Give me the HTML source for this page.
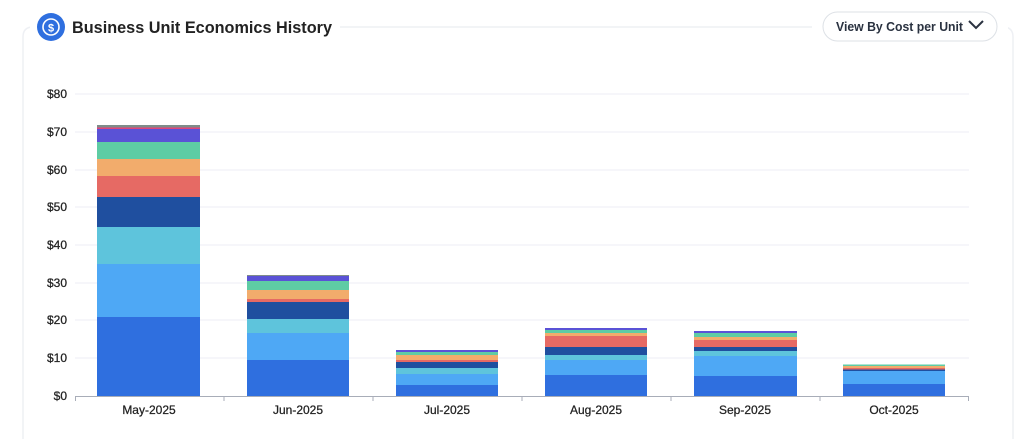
<!DOCTYPE html>
<html><head><meta charset="utf-8"><style>
body{margin:0;background:#fff;width:1024px;height:439px;overflow:hidden;font-family:"Liberation Sans",Arial,sans-serif}
</style></head><body>
<svg width="1024" height="439" xmlns="http://www.w3.org/2000/svg" font-family="Liberation Sans, Arial, sans-serif">
<path d="M23 439 V37 Q23 27 33 27 H1003 Q1013 27 1013 37 V439" fill="none" stroke="#eef0f4" stroke-width="1.5"/>
<rect x="30" y="8" width="310" height="36" fill="#fff"/>
<rect x="812" y="8" width="196" height="40" fill="#fff"/>
<circle cx="51" cy="27" r="14" fill="#2f6fdf"/>
<circle cx="51" cy="27" r="8" fill="none" stroke="#fff" stroke-width="1.6"/>
<text x="51" y="31.5" font-size="11" font-weight="bold" fill="#fff" text-anchor="middle">$</text>
<text x="72" y="33" font-size="17" font-weight="bold" fill="#222" textLength="260" lengthAdjust="spacingAndGlyphs">Business Unit Economics History</text>
<rect x="823" y="12" width="174" height="29" rx="14.5" fill="#fff" stroke="#dde1e6"/>
<text x="836" y="31" font-size="13" fill="#2a3240" font-weight="bold" textLength="127" lengthAdjust="spacingAndGlyphs">View By Cost per Unit</text>
<path d="M969 21 L976 28 L983 21" fill="none" stroke="#2a3240" stroke-width="2"/>
<g stroke="#eceef5" stroke-width="1">
<line x1="75" x2="969" y1="94" y2="94"/><line x1="75" x2="969" y1="132" y2="132"/><line x1="75" x2="969" y1="170" y2="170"/><line x1="75" x2="969" y1="207" y2="207"/><line x1="75" x2="969" y1="245" y2="245"/><line x1="75" x2="969" y1="283" y2="283"/><line x1="75" x2="969" y1="320" y2="320"/><line x1="75" x2="969" y1="358" y2="358"/>
</g>
<g font-size="12" fill="#222" text-anchor="end" stroke="#222" stroke-width="0.25">
<text x="67" y="98">$80</text><text x="67" y="136">$70</text><text x="67" y="174">$60</text><text x="67" y="211">$50</text><text x="67" y="249">$40</text><text x="67" y="287">$30</text><text x="67" y="324">$20</text><text x="67" y="362">$10</text><text x="67" y="400">$0</text>
</g>
<g>
<rect x="97" y="317" width="103" height="79" fill="#2f6fdf"/>
<rect x="97" y="264" width="103" height="53" fill="#4ea8f5"/>
<rect x="97" y="227" width="103" height="37" fill="#5ec4dc"/>
<rect x="97" y="197" width="103" height="30" fill="#1f4f9f"/>
<rect x="97" y="176" width="103" height="21" fill="#e66a64"/>
<rect x="97" y="159" width="103" height="17" fill="#f2ac6c"/>
<rect x="97" y="142" width="103" height="17" fill="#5ecca4"/>
<rect x="97" y="129" width="103" height="13" fill="#5a52d6"/>
<rect x="97" y="127.5" width="103" height="1.5" fill="#e0457b"/>
<rect x="97" y="125" width="103" height="2.5" fill="#7f8c8a"/>
<rect x="247" y="360" width="102" height="36" fill="#2f6fdf"/>
<rect x="247" y="333" width="102" height="27" fill="#4ea8f5"/>
<rect x="247" y="319" width="102" height="14" fill="#5ec4dc"/>
<rect x="247" y="302" width="102" height="17" fill="#1f4f9f"/>
<rect x="247" y="299" width="102" height="3" fill="#e66a64"/>
<rect x="247" y="290" width="102" height="9" fill="#f2ac6c"/>
<rect x="247" y="281" width="102" height="9" fill="#5ecca4"/>
<rect x="247" y="276" width="102" height="5" fill="#5a52d6"/>
<rect x="247" y="275" width="102" height="1" fill="#7f8c8a"/>
<rect x="396" y="385" width="102" height="11" fill="#2f6fdf"/>
<rect x="396" y="374" width="102" height="11" fill="#4ea8f5"/>
<rect x="396" y="368" width="102" height="6" fill="#5ec4dc"/>
<rect x="396" y="362" width="102" height="6" fill="#1f4f9f"/>
<rect x="396" y="360" width="102" height="2" fill="#e66a64"/>
<rect x="396" y="355" width="102" height="5" fill="#f2ac6c"/>
<rect x="396" y="352" width="102" height="3" fill="#5ecca4"/>
<rect x="396" y="350" width="102" height="2" fill="#5a52d6"/>
<rect x="545" y="375" width="102" height="21" fill="#2f6fdf"/>
<rect x="545" y="360" width="102" height="15" fill="#4ea8f5"/>
<rect x="545" y="355" width="102" height="5" fill="#5ec4dc"/>
<rect x="545" y="347" width="102" height="8" fill="#1f4f9f"/>
<rect x="545" y="336" width="102" height="11" fill="#e66a64"/>
<rect x="545" y="333" width="102" height="3" fill="#f2ac6c"/>
<rect x="545" y="330" width="102" height="3" fill="#5ecca4"/>
<rect x="545" y="328" width="102" height="2" fill="#5a52d6"/>
<rect x="694" y="376" width="103" height="20" fill="#2f6fdf"/>
<rect x="694" y="356" width="103" height="20" fill="#4ea8f5"/>
<rect x="694" y="351" width="103" height="5" fill="#5ec4dc"/>
<rect x="694" y="347" width="103" height="4" fill="#1f4f9f"/>
<rect x="694" y="340" width="103" height="7" fill="#e66a64"/>
<rect x="694" y="337" width="103" height="3" fill="#f2ac6c"/>
<rect x="694" y="333" width="103" height="4" fill="#5ecca4"/>
<rect x="694" y="331" width="103" height="2" fill="#5a52d6"/>
<rect x="843" y="384" width="102" height="12" fill="#2f6fdf"/>
<rect x="843" y="371" width="102" height="13" fill="#4ea8f5"/>
<rect x="843" y="369.5" width="102" height="1.5" fill="#1f4f9f"/>
<rect x="843" y="368" width="102" height="1.5" fill="#e66a64"/>
<rect x="843" y="366" width="102" height="2" fill="#f2ac6c"/>
<rect x="843" y="364.5" width="102" height="1.5" fill="#5ecca4"/>
</g>
<g stroke="#a8adb8" stroke-width="1">
<line x1="75" x2="969" y1="396.5" y2="396.5"/>
<line x1="75.5" x2="75.5" y1="396" y2="401"/><line x1="224" x2="224" y1="396" y2="401"/><line x1="373" x2="373" y1="396" y2="401"/><line x1="522" x2="522" y1="396" y2="401"/><line x1="671" x2="671" y1="396" y2="401"/><line x1="820" x2="820" y1="396" y2="401"/><line x1="968.5" x2="968.5" y1="396" y2="401"/>
</g>
<g font-size="12" fill="#222" text-anchor="middle" stroke="#222" stroke-width="0.25">
<text x="149" y="414">May-2025</text><text x="298" y="414">Jun-2025</text><text x="447" y="414">Jul-2025</text><text x="596" y="414">Aug-2025</text><text x="745" y="414">Sep-2025</text><text x="894" y="414">Oct-2025</text>
</g>
</svg>
</body></html>
